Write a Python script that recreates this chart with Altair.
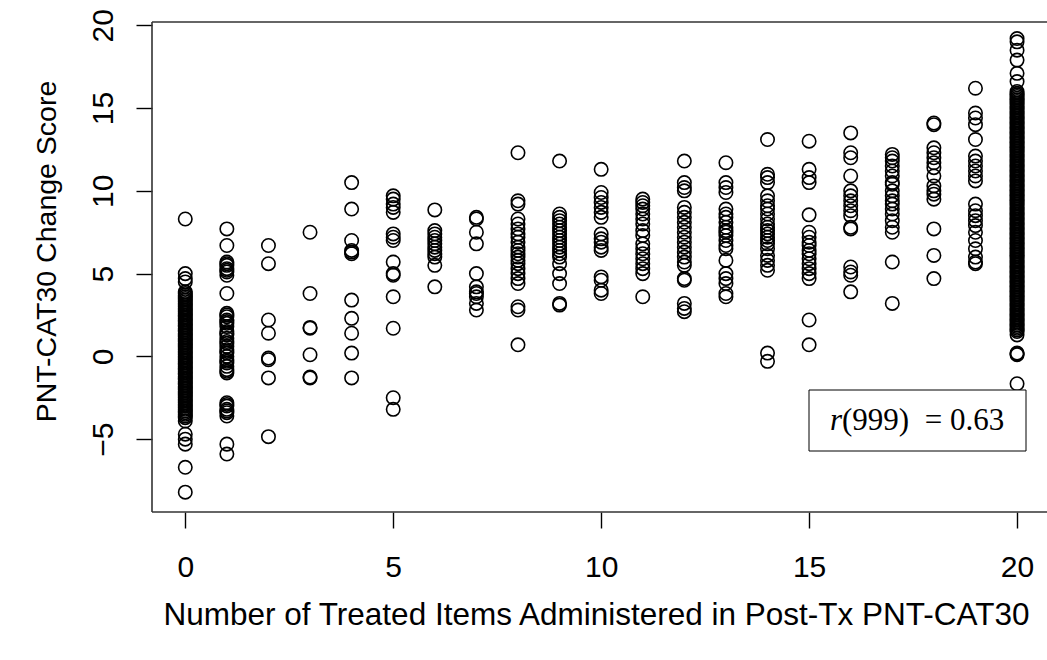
import altair as alt
import pandas as pd

# Change score values, one list per number of treated items (x = 0..20)
y_at_0 = [8.3, 5.0, 4.7, 4.5,
          3.9, 3.8, 3.7, 3.6, 3.5, 3.4, 3.3, 3.2, 3.1, 3.0, 2.9, 2.8, 2.7, 2.6, 2.5, 2.4, 2.3,
          2.2, 2.1, 2.0, 1.9, 1.8, 1.7, 1.6, 1.5, 1.4, 1.3, 1.2, 1.1, 1.0, 0.9, 0.8, 0.7, 0.6,
          0.5, 0.4, 0.3, 0.2, 0.1, 0.0, -0.1, -0.2, -0.3, -0.4, -0.5, -0.6, -0.7, -0.8, -0.9,
          -1.0, -1.1, -1.2, -1.3, -1.4, -1.5, -1.6, -1.7, -1.8, -1.9, -2.0, -2.1, -2.2, -2.3,
          -2.4, -2.5, -2.6, -2.7, -2.8, -2.9, -3.0, -3.1, -3.2, -3.3, -3.4, -3.5, -3.6, -3.7,
          -3.9, -4.7, -5.0, -5.3, -6.7, -8.2]
y_at_1 = [7.7, 6.7, 5.7, 5.6, 5.5, 5.3, 5.2, 5.1, 4.9, 3.8, 2.6, 2.5, 2.4, 2.2, 2.1, 2.0, 1.8,
          1.5, 1.4, 1.3, 1.1, 0.9, 0.8, 0.6, 0.4, 0.3, 0.2, 0.0, -0.2, -0.3, -0.4, -0.6, -0.8,
          -0.9, -1.0, -2.8, -2.9, -3.0, -3.2, -3.3, -3.4, -3.6, -5.3, -5.9]
y_at_2 = [6.7, 5.6, 2.2, 1.4, -0.1, -0.2, -1.3, -4.85]
y_at_3 = [7.5, 3.8, 1.7, 1.75, 0.1, -1.25, -1.3]
y_at_4 = [10.5, 8.9, 7.0, 6.4, 6.3, 6.2, 3.4, 2.3, 1.4, 0.2, -1.3]
y_at_5 = [9.7, 9.5, 9.2, 9.0, 8.7, 7.4, 7.2, 7.0, 5.7, 5.0, 4.9, 3.6, 1.7, -2.5, -3.2]
y_at_6 = [8.85, 7.6, 7.4, 7.2, 7.0, 6.8, 6.6, 6.4, 6.2, 6.0, 5.5, 4.2]
y_at_7 = [8.4, 8.3, 7.5, 6.8, 5.0, 4.2, 3.9, 3.8, 3.6, 3.2, 2.8]
y_at_8 = [12.3, 9.4, 9.2, 8.3, 8.0, 7.7, 7.4, 7.2, 6.9, 6.6, 6.4, 6.2, 6.0, 5.8, 5.6, 5.3, 5.0,
          4.7, 4.4, 3.0, 2.8, 0.7]
y_at_9 = [11.8, 8.6, 8.4, 8.2, 8.0, 7.8, 7.6, 7.4, 7.2, 7.0, 6.8, 6.6, 6.4, 6.2, 6.0, 5.6, 5.0,
          4.4, 3.2, 3.1]
y_at_10 = [11.3, 9.9, 9.6, 9.3, 9.0, 8.7, 8.4, 7.4, 7.1, 6.9, 6.6, 6.4, 4.8, 4.6, 4.0, 3.8]
y_at_11 = [9.5, 9.3, 9.1, 8.9, 8.6, 8.3, 8.0, 7.6, 7.3, 6.8, 6.5, 6.2, 5.9, 5.6, 5.3, 5.0, 3.6]
y_at_12 = [11.8, 10.5, 10.2, 10.0, 9.0, 8.7, 8.4, 8.1, 7.8, 7.5, 7.2, 6.9, 6.6, 6.3, 6.0, 5.7,
           5.5, 4.7, 4.6, 3.2, 2.9, 2.7]
y_at_13 = [11.7, 10.5, 10.2, 9.9, 8.9, 8.6, 8.4, 8.1, 7.8, 7.6, 7.5, 7.3, 7.0, 6.7, 6.5, 5.8,
           5.0, 4.7, 4.4, 3.8, 3.6]
y_at_14 = [13.1, 11.0, 10.8, 10.5, 9.7, 9.4, 9.1, 8.9, 8.6, 8.3, 8.0, 7.8, 7.6, 7.4, 7.2, 7.0,
           6.8, 6.5, 6.1, 5.8, 5.5, 5.2, 0.2, -0.3]
y_at_15 = [13.0, 11.3, 10.8, 10.5, 8.55, 7.5, 7.2, 6.9, 6.7, 6.4, 6.2, 5.9, 5.6, 5.3, 5.0, 4.7,
           2.2, 0.7]
y_at_16 = [13.5, 12.3, 12.0, 10.9, 10.0, 9.7, 9.4, 9.1, 8.8, 8.5, 7.8, 7.7, 5.4, 5.1, 4.9, 3.9]
y_at_17 = [12.2, 12.0, 11.8, 11.5, 11.2, 10.9, 10.5, 10.4, 10.0, 9.7, 9.4, 9.2, 8.9, 8.6, 8.2,
           7.8, 7.5, 5.7, 3.2]
y_at_18 = [14.1, 14.0, 12.6, 12.3, 12.0, 11.7, 11.4, 10.9, 10.3, 10.0, 9.8, 9.5, 7.7, 6.1, 4.7]
y_at_19 = [16.2, 14.7, 14.4, 14.0, 13.1, 12.1, 11.8, 11.5, 11.2, 10.9, 10.6, 9.2, 8.8, 8.5, 8.2,
           7.9, 7.5, 7.0, 6.5, 6.0, 5.7, 5.6]
y_at_20 = [19.2, 19.0, 18.5, 17.9, 17.1, 16.6,
           16.0, 15.9, 15.8, 15.7, 15.6, 15.5, 15.4, 15.3, 15.2, 15.1,
           15.0, 14.9, 14.8, 14.7, 14.6, 14.5, 14.4, 14.3, 14.2, 14.1,
           14.0, 13.9, 13.8, 13.7, 13.6, 13.5, 13.4, 13.3, 13.2, 13.1,
           13.0, 12.9, 12.8, 12.7, 12.6, 12.5, 12.4, 12.3, 12.2, 12.1,
           12.0, 11.9, 11.8, 11.7, 11.6, 11.5, 11.4, 11.3, 11.2, 11.1,
           11.0, 10.9, 10.8, 10.7, 10.6, 10.5, 10.4, 10.3, 10.2, 10.1,
           10.0, 9.9, 9.8, 9.7, 9.6, 9.5, 9.4, 9.3, 9.2, 9.1,
           9.0, 8.9, 8.8, 8.7, 8.6, 8.5, 8.4, 8.3, 8.2, 8.1,
           8.0, 7.9, 7.8, 7.7, 7.6, 7.5, 7.4, 7.3, 7.2, 7.1,
           7.0, 6.9, 6.8, 6.7, 6.6, 6.5, 6.4, 6.3, 6.2, 6.1,
           6.0, 5.9, 5.8, 5.7, 5.6, 5.5, 5.4, 5.3, 5.2, 5.1,
           5.0, 4.9, 4.8, 4.7, 4.6, 4.5, 4.4, 4.3, 4.2, 4.1,
           4.0, 3.9, 3.8, 3.7, 3.6, 3.5, 3.4, 3.3, 3.2, 3.1,
           3.0, 2.9, 2.8, 2.7, 2.6, 2.5, 2.4, 2.3, 2.2, 2.1,
           2.0, 1.9, 1.8, 1.7, 1.6, 1.5,
           1.3, 0.2, 0.15, 0.1, -1.65]

columns = [y_at_0, y_at_1, y_at_2, y_at_3, y_at_4, y_at_5, y_at_6, y_at_7, y_at_8, y_at_9,
           y_at_10, y_at_11, y_at_12, y_at_13, y_at_14, y_at_15, y_at_16, y_at_17, y_at_18,
           y_at_19, y_at_20]

x_ticks = [0, 5, 10, 15, 20]
y_ticks = [-5, 0, 5, 10, 15, 20]
x_title = "Number of Treated Items Administered in Post-Tx PNT-CAT30"
y_title = "PNT-CAT30 Change Score"
stat_r = ["r"]
stat_rest = ["(999)\u00a0\u00a0=\u00a00.63"]

rows = []
for x, ys in enumerate(columns):
    for y in ys:
        rows.append({"items": x, "change": y})
df = pd.DataFrame(rows)

W, H = 895, 490
SANS = "Liberation Sans"
SERIF = "Liberation Serif"

x_scale = alt.Scale(domain=[-0.8, 20.72], nice=False, zero=False)
y_scale = alt.Scale(domain=[-9.4, 20.2], nice=False, zero=False)

points = alt.Chart(df).mark_point(
    shape="circle", filled=False, size=180, strokeWidth=1.6, color="black", opacity=1
).encode(
    x=alt.X("items:Q", scale=x_scale, axis=alt.Axis(
        values=x_ticks, title=x_title, domain=False, grid=False,
        tickSize=16, tickColor="black", tickWidth=1.4,
        labelFont=SANS, labelFontSize=30, labelColor="black", labelPadding=24,
        labelFlush=False, labelBaseline="top", labelAlign="center",
        titleFont=SANS, titleFontSize=31.5, titleFontWeight="normal", titleColor="black",
        titleX=444, titleY=112, titleAlign="center", titleBaseline="alphabetic",
    )),
    y=alt.Y("change:Q", scale=y_scale, axis=alt.Axis(
        values=y_ticks, title=y_title, domain=False, grid=False,
        tickSize=16, tickColor="black", tickWidth=1.4,
        labelFont=SANS, labelFontSize=30, labelColor="black", labelPadding=18,
        labelAngle=270, labelAlign="center", labelBaseline="bottom", labelFlush=False,
        titleFont=SANS, titleFontSize=28.5, titleFontWeight="normal", titleColor="black",
        titleAngle=270, titleX=-97, titleY=229, titleAlign="center", titleBaseline="alphabetic",
    )),
)

one = pd.DataFrame({"k": [0]})
frame_top = alt.Chart(one).mark_rule(color="#333", strokeWidth=1.6).encode(
    x=alt.value(0), x2=alt.value(W), y=alt.value(0))
frame_left = alt.Chart(one).mark_rule(color="#333", strokeWidth=1.6).encode(
    x=alt.value(0), y=alt.value(0), y2=alt.value(H))
frame_bottom = alt.Chart(one).mark_rule(color="#333", strokeWidth=1.6).encode(
    x=alt.value(0), x2=alt.value(W), y=alt.value(H))

box = alt.Chart(one).mark_rect(fill="white", stroke="black", strokeWidth=1).encode(
    x=alt.value(657), x2=alt.value(874), y=alt.value(368), y2=alt.value(429))

txt_r = alt.Chart(pd.DataFrame({"t": stat_r})).mark_text(
    font=SERIF, fontSize=31, fontStyle="italic", align="left", baseline="alphabetic", color="black"
).encode(x=alt.value(678), y=alt.value(408), text="t:N")
txt_rest = alt.Chart(pd.DataFrame({"t": stat_rest})).mark_text(
    font=SERIF, fontSize=31, align="left", baseline="alphabetic", color="black"
).encode(x=alt.value(690), y=alt.value(408), text="t:N")

chart = alt.layer(points, frame_top, frame_left, frame_bottom, box, txt_r, txt_rest).properties(
    width=W, height=H,
    autosize=alt.AutoSizeParams(type="none"),
    padding={"left": 152, "top": 22, "right": 0, "bottom": 148},
    background="white",
).configure_view(stroke=None)

chart.save("out.html", embed_options={"renderer": "svg", "actions": False})
